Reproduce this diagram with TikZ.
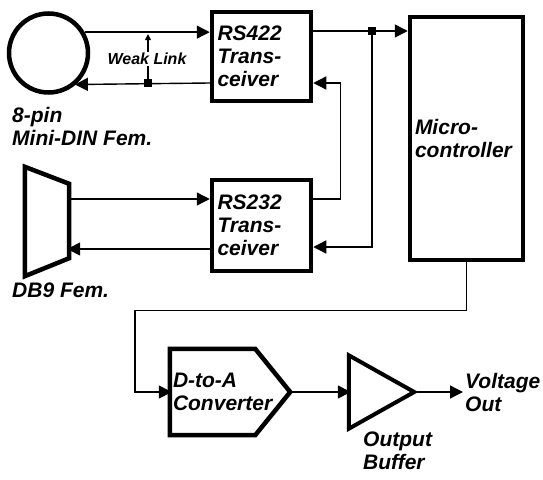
\documentclass[tikz,border=0pt]{standalone}
\usepackage{fontspec}
\setmainfont{Liberation Sans}
\usetikzlibrary{arrows.meta,positioning,shapes.geometric}

\begin{document}
\begin{tikzpicture}[x=1pt, y=-1pt,
    blk/.style={draw, line width=4.5pt, inner sep=0pt, align=left, font=\fontsize{21}{23}\selectfont\bfseries\itshape},
    lbl/.style={inner sep=0pt, align=left, font=\fontsize{21}{23}\selectfont\bfseries\itshape},
    arr/.style={-{Triangle[length=13pt,width=13pt]}, line width=1.4pt},
    dot/.style={fill, minimum size=8pt, inner sep=0pt}
]
\useasboundingbox (0,0) rectangle (543,479);

% connectors and converters
\node[draw, circle, line width=4.5pt, minimum size=79pt, inner sep=0pt] (din) at (48.5,53) {};
\node[blk, minimum width=99pt, minimum height=89pt, text width=88pt] (rs422) at (261.5,56.5) {RS422\\Trans-\\ceiver};
\node[blk, minimum width=99pt, minimum height=91pt, text width=88pt] (rs232) at (261.5,225.5) {RS232\\Trans-\\ceiver};
\node[blk, minimum width=113pt, minimum height=243pt, text width=103pt] (micro) at (466.5,138.5) {Micro-\\controller};
\node[minimum width=44pt, minimum height=109pt, inner sep=0pt] (db9) at (47,221.5) {};
\draw[line width=4.5pt, line join=miter] (db9.north west) -- ([yshift=-17pt]db9.north east) -- ([yshift=18pt]db9.south east) -- (db9.south west) -- cycle;

\node[lbl, anchor=west] (dinlbl) at (12,126) {8-pin\\Mini-DIN Fem.};
\node[lbl, anchor=west] (db9lbl) at (12,290) {DB9 Fem.};

% weak link
\node[dot] (wlsq) at (148,83) {};
\draw[arr] (din.30) -- (din.30 -| rs422.west);
\draw[arr, shorten >=-1pt] (wlsq -| rs422.west) -- (din.-49);
\draw[-{Triangle[length=6pt,width=6pt]}, line width=1.2pt, shorten >=2pt] (wlsq) -- (wlsq |- din.30);
\node[fill=white, inner sep=1pt, font=\fontsize{16}{18}\selectfont\bfseries\itshape] (wl) at (147,59) {Weak Link};

% serial lines
\draw[arr] ([yshift=26.5pt]rs232.west -| db9.east) -- ([yshift=26.5pt]rs232.west);
\draw[arr, shorten >=-2pt] ([yshift=-23.5pt]rs232.west) -- ([yshift=-23.5pt]rs232.west -| db9.east);
\node[dot] (j1) at (372,31) {};
\draw[arr] (rs422.east |- j1) -- (j1 -| micro.west);
\draw[arr] (j1) |- ([yshift=-21.5pt]rs232.east);
\draw[arr] ([yshift=26.5pt]rs232.east) -- ++(27,0) |- ([yshift=-26.5pt]rs422.east);

% output stage
\node[lbl, minimum width=120pt, minimum height=86pt, text width=114pt] (dac) at (230,392) {D-to-A\\Converter};
\draw[line width=4.5pt, line join=miter] (dac.north west) -- ([xshift=-35pt]dac.north east) -- (dac.east) -- ([xshift=-35pt]dac.south east) -- (dac.south west) -- cycle;
\node[minimum width=65pt, minimum height=73pt, inner sep=0pt] (buf) at (381.5,392) {};
\draw[line width=4pt, line join=miter] (buf.north west) -- (buf.east) -- (buf.south west) -- cycle;
\node[lbl, anchor=west] (buflbl) at (363,451) {Output\\Buffer};
\node[lbl, anchor=west] (vout) at (465,392) {Voltage\\Out};

\draw[arr, shorten >=-2pt] (micro.south) -- ++(0,48) -| ([xshift=-35pt]dac.west) -- (dac.west);
\draw[arr, shorten >=-2pt] (dac.east) -- (buf.west);
\draw[arr, shorten >=2pt] (buf.east) -- (vout.west);
\end{tikzpicture}
\end{document}
